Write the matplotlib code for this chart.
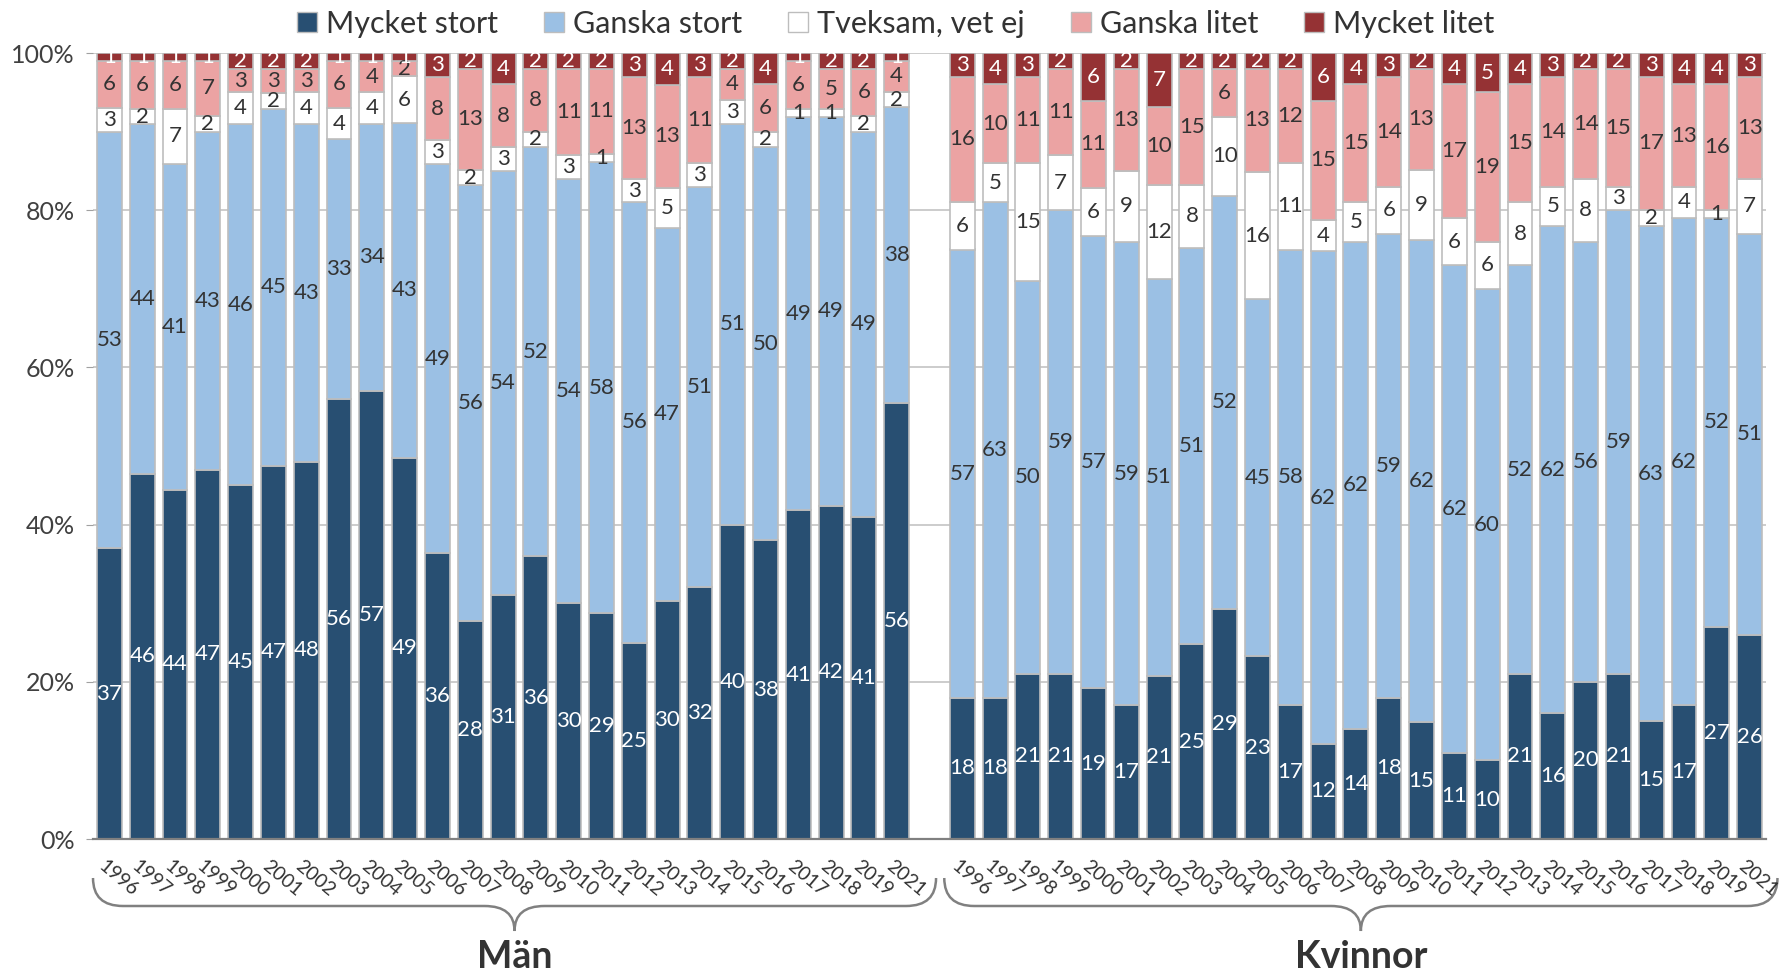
import numpy as np
import matplotlib
matplotlib.use('Agg')
import matplotlib.pyplot as plt
from matplotlib.patches import Patch, PathPatch
from matplotlib.path import Path
from matplotlib.transforms import ScaledTranslation

plt.rcParams['font.family'] = ['Lato', 'DejaVu Sans']

years = ['1996', '1997', '1998', '1999', '2000', '2001', '2002', '2003', '2004',
         '2005', '2006', '2007', '2008', '2009', '2010', '2011', '2012', '2013',
         '2014', '2015', '2016', '2017', '2018', '2019', '2021']
groups = ['Män', 'Kvinnor']
categories = ['Mycket stort', 'Ganska stort', 'Tveksam, vet ej', 'Ganska litet', 'Mycket litet']

man_mycket_stort = [37, 46, 44, 47, 45, 47, 48, 56, 57, 49, 36, 28, 31, 36, 30, 29, 25, 30, 32, 40, 38, 41, 42, 41, 56]
man_ganska_stort = [53, 44, 41, 43, 46, 45, 43, 33, 34, 43, 49, 56, 54, 52, 54, 58, 56, 47, 51, 51, 50, 49, 49, 49, 38]
man_tveksam = [3, 2, 7, 2, 4, 2, 4, 4, 4, 6, 3, 2, 3, 2, 3, 1, 3, 5, 3, 3, 2, 1, 1, 2, 2]
man_ganska_litet = [6, 6, 6, 7, 3, 3, 3, 6, 4, 2, 8, 13, 8, 8, 11, 11, 13, 13, 11, 4, 6, 6, 5, 6, 4]
man_mycket_litet = [1, 1, 1, 1, 2, 2, 2, 1, 1, 1, 3, 2, 4, 2, 2, 2, 3, 4, 3, 2, 4, 1, 2, 2, 1]

kvinnor_mycket_stort = [18, 18, 21, 21, 19, 17, 21, 25, 29, 23, 17, 12, 14, 18, 15, 11, 10, 21, 16, 20, 21, 15, 17, 27, 26]
kvinnor_ganska_stort = [57, 63, 50, 59, 57, 59, 51, 51, 52, 45, 58, 62, 62, 59, 62, 62, 60, 52, 62, 56, 59, 63, 62, 52, 51]
kvinnor_tveksam = [6, 5, 15, 7, 6, 9, 12, 8, 10, 16, 11, 4, 5, 6, 9, 6, 6, 8, 5, 8, 3, 2, 4, 1, 7]
kvinnor_ganska_litet = [16, 10, 11, 11, 11, 13, 10, 15, 6, 13, 12, 15, 15, 14, 13, 17, 19, 15, 14, 14, 15, 17, 13, 16, 13]
kvinnor_mycket_litet = [3, 4, 3, 2, 6, 2, 7, 2, 2, 2, 2, 6, 4, 3, 2, 4, 5, 4, 3, 2, 2, 3, 4, 4, 3]

group_data = {
    'Män': [man_mycket_stort, man_ganska_stort, man_tveksam, man_ganska_litet, man_mycket_litet],
    'Kvinnor': [kvinnor_mycket_stort, kvinnor_ganska_stort, kvinnor_tveksam, kvinnor_ganska_litet, kvinnor_mycket_litet],
}

colors = ['#284F72', '#9BC0E4', '#FFFFFF', '#EBA3A3', '#953234']
text_colors = ['white', '#333333', '#333333', '#333333', 'white']
edge = '#BDBDBD'

W, H = 1781, 971
fig = plt.figure(figsize=(W / 100, H / 100), dpi=100)
ax = fig.add_axes([93 / W, (H - 839) / H, (1766 - 93) / W, (839 - 53) / H])

n = len(years)
gap = 1
all_pos = []
all_labels = []
for gi, g in enumerate(groups):
    x = np.arange(n) + gi * (n + gap)
    data = np.array(group_data[g], dtype=float)
    totals = data.sum(axis=0)
    norm = data / totals * 100
    bottom = np.zeros(n)
    for ci in range(len(categories)):
        ax.bar(x, norm[ci], bottom=bottom, width=0.76, color=colors[ci],
               edgecolor=edge, linewidth=1.2, zorder=3)
        for xi, b, h, v in zip(x, bottom, norm[ci], data[ci]):
            ax.text(xi, b + h / 2, f'{int(v)}', ha='center', va='center',
                    color=text_colors[ci], fontsize=16, zorder=5)
        bottom = bottom + norm[ci]
    all_pos.extend(x)
    all_labels.extend(years)

ax.set_xlim(-0.5, 2 * n + gap - 0.5)
ax.set_ylim(0, 100)
ax.set_yticks(range(0, 101, 20))
ax.set_yticklabels([f'{v}%' for v in range(0, 101, 20)], fontsize=18, color='#404040')
ax.set_xticks(all_pos)
ax.set_xticklabels(all_labels, rotation=-40, ha='left', va='top',
                   rotation_mode='anchor', fontsize=14, color='#333333')
ax.tick_params(axis='x', length=0, pad=13)
ax.tick_params(axis='y', length=5, color='#A0A0A0', pad=8)
shift = ScaledTranslation(-3 / 100, 0, fig.dpi_scale_trans)
for lab in ax.get_xticklabels():
    lab.set_transform(lab.get_transform() + shift)
ax.yaxis.grid(True, color='#C8C8C8', linewidth=1.3)
ax.set_axisbelow(True)
for s in ['top', 'right', 'left']:
    ax.spines[s].set_visible(False)
ax.spines['bottom'].set_color('#808080')
ax.spines['bottom'].set_linewidth(1.6)
ax.spines['bottom'].set_zorder(4)

# legend
handles = [Patch(facecolor=c, edgecolor=edge, linewidth=1) for c in colors]
fig.legend(handles, categories, loc='upper center', bbox_to_anchor=(0.503, 1.018),
           ncol=5, frameon=False, fontsize=22, handlelength=0.65, handleheight=0.65,
           handletextpad=0.3, columnspacing=1.5, labelcolor='#333333')

# braces under each group
bax = fig.add_axes([0, 0, 1, 1], zorder=-1)
bax.set_xlim(0, W)
bax.set_ylim(0, H)
bax.axis('off')

def px(xdata):
    return ax.transData.transform((xdata, 0))[0]

def brace(x0, x1, ytop, ymid, ytip):
    xc = (x0 + x1) / 2
    r = 30
    verts = [(x0, ytop), (x0, ymid), (x0 + r, ymid),
             (xc - r, ymid), (xc, ymid), (xc, ytip),
             (xc, ymid), (xc + r, ymid),
             (x1 - r, ymid), (x1, ymid), (x1, ytop)]
    codes = [Path.MOVETO, Path.CURVE3, Path.CURVE3,
             Path.LINETO, Path.CURVE3, Path.CURVE3,
             Path.CURVE3, Path.CURVE3,
             Path.LINETO, Path.CURVE3, Path.CURVE3]
    bax.add_patch(PathPatch(Path(verts, codes), facecolor='none',
                            edgecolor='#808080', linewidth=1.8))
    return xc

spans = [(-0.5, n + 0.2), (n + gap - 0.55, 2 * n + gap - 0.15)]
for g, (a, b) in zip(groups, spans):
    xc = brace(px(a), px(b), H - 878, H - 906, H - 931)
    bax.text(xc, H - 940, g, ha='center', va='top', fontsize=27,
             fontweight='bold', color='#333333')

fig.savefig('out.png', dpi=100)
